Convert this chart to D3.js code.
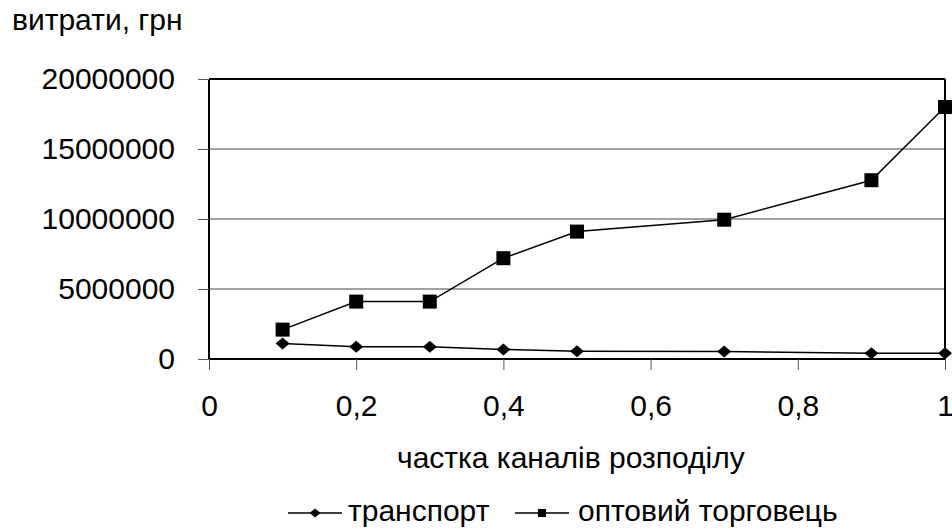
<!DOCTYPE html>
<html>
<head>
<meta charset="utf-8">
<script src="https://cdn.jsdelivr.net/npm/d3@7"></script>
<style>
  body { margin: 0; background: #fff; }
  text { font-family: "Liberation Sans", Arial, sans-serif; fill: #000; }
</style>
</head>
<body>
<svg id="chart" width="952" height="530"></svg>
<script>
// data
const shares = [0.1, 0.2, 0.3, 0.4, 0.5, 0.7, 0.9, 1.0];
const transport = [1100000, 870000, 870000, 680000, 560000, 540000, 410000, 410000];
const wholesaler = [2100000, 4100000, 4100000, 7200000, 9100000, 9950000, 12770000, 18000000];
const seriesNames = ["транспорт", "оптовий торговець"];
const yTicks = [0, 5000000, 10000000, 15000000, 20000000];
const xTicks = [0, 0.2, 0.4, 0.6, 0.8, 1];

const fontSize = 30;
const margin = {top: 79, right: 7, bottom: 171, left: 209};
const width = 952 - margin.left - margin.right,
      height = 530 - margin.top - margin.bottom;

const svg = d3.select("#chart");
const g = svg.append("g")
    .attr("transform", "translate(" + margin.left + "," + margin.top + ")");

const x = d3.scaleLinear().domain([0, 1]).range([0, width]);
const y = d3.scaleLinear().domain([0, 20000000]).range([height, 0]);

// gridlines
g.selectAll(".grid")
  .data(yTicks.slice(1))
  .join("line")
    .attr("x1", 0).attr("x2", width)
    .attr("y1", d => y(d)).attr("y2", d => y(d))
    .attr("stroke", "#444").attr("stroke-width", 1);

// frame top/right
g.append("line").attr("x1", 0).attr("x2", width).attr("y1", 0).attr("y2", 0)
  .attr("stroke", "#000").attr("stroke-width", 2);
g.append("line").attr("x1", width).attr("x2", width).attr("y1", 0).attr("y2", height)
  .attr("stroke", "#000").attr("stroke-width", 2);

// axes
const yAxis = g.append("g")
  .call(d3.axisLeft(y).tickValues(yTicks).tickFormat(d3.format("d")).tickSize(11).tickPadding(23));
const xAxis = g.append("g")
  .attr("transform", "translate(0," + height + ")")
  .call(d3.axisBottom(x).tickValues(xTicks)
    .tickFormat(d => String(d).replace(".", ",")).tickSize(11).tickPadding(25));

[yAxis, xAxis].forEach(a => {
  a.select(".domain").attr("stroke", "#000").attr("stroke-width", 2);
  a.selectAll(".tick line").attr("stroke", "#555");
  a.selectAll("text").attr("font-size", fontSize).attr("font-family", "Liberation Sans, Arial, sans-serif").attr("fill", "#000");
});
yAxis.select(".domain").attr("d", "M0," + height + "V0");
xAxis.select(".domain").attr("d", "M0,0H" + width);

const line = d3.line().x((d, i) => x(shares[i])).y(d => y(d));

g.append("path").datum(transport)
  .attr("fill", "none").attr("stroke", "#000").attr("stroke-width", 1.5)
  .attr("d", line);
g.append("path").datum(wholesaler)
  .attr("fill", "none").attr("stroke", "#000").attr("stroke-width", 1.5)
  .attr("d", line);

const diamond = "M0,-6L7,0L0,6L-7,0Z";

g.selectAll(".dia")
  .data(transport)
  .join("path")
    .attr("transform", (d, i) => "translate(" + x(shares[i]) + "," + y(d) + ")")
    .attr("d", diamond)
    .attr("fill", "#000");

g.selectAll(".sq")
  .data(wholesaler)
  .join("rect")
    .attr("x", (d, i) => x(shares[i]) - 7)
    .attr("y", d => y(d) - 7)
    .attr("width", 14).attr("height", 14)
    .attr("fill", "#000");

// titles
svg.append("text").attr("x", 12).attr("y", 30)
  .attr("font-size", fontSize).text("витрати, грн");
svg.append("text").attr("x", 397).attr("y", 468)
  .attr("font-size", fontSize).text("частка каналів розподілу");

// legend
const legend = svg.append("g").attr("transform", "translate(288,513)");
legend.append("line").attr("x1", 0).attr("x2", 54).attr("stroke", "#000").attr("stroke-width", 1.5);
legend.append("path").attr("d", "M0,-4.5L5.5,0L0,4.5L-5.5,0Z").attr("transform", "translate(27,0)");
legend.append("text").attr("x", 60).attr("y", 8).attr("font-size", fontSize).text(seriesNames[0]);
legend.append("line").attr("x1", 227).attr("x2", 281).attr("stroke", "#000").attr("stroke-width", 1.5);
legend.append("rect").attr("x", 250).attr("y", -4).attr("width", 8).attr("height", 8);
legend.append("text").attr("x", 290).attr("y", 8).attr("font-size", fontSize).text(seriesNames[1]);
</script>
</body>
</html>
